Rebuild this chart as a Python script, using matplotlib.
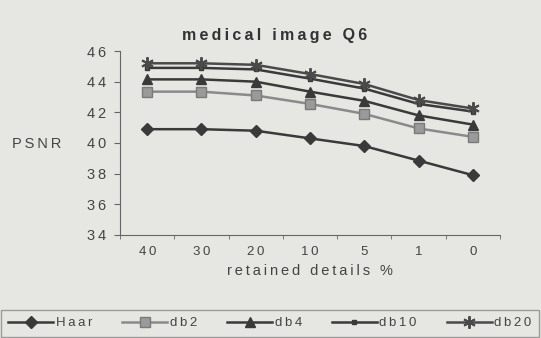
import numpy as np
import matplotlib
matplotlib.use("Agg")
from matplotlib import pyplot as plt

# Data
categories = ["40", "30", "20", "10", "5", "1", "0"]
haar = [40.9, 40.9, 40.8, 40.3, 39.8, 38.85, 37.9]
db2 = [43.35, 43.35, 43.1, 42.55, 41.9, 40.95, 40.4]
db4 = [44.15, 44.15, 44.0, 43.35, 42.75, 41.8, 41.2]
db10 = [44.9, 44.9, 44.8, 44.2, 43.55, 42.55, 42.05]
db20 = [45.2, 45.2, 45.1, 44.5, 43.85, 42.8, 42.25]
y_ticks = [34, 36, 38, 40, 42, 44, 46]

plt.rcParams['font.family'] = ['Liberation Sans', 'DejaVu Sans']
bg = "#e6e6e2"
txt = "#444444"


def spaced(s):
    # scanned chart uses wide letter spacing, fake it with thin spaces
    return "\u2009".join(s)


fig = plt.figure(figsize=(5.41, 3.38), dpi=100, facecolor=bg)
ax = fig.add_axes([0.222, 0.305, 0.702, 0.544])
ax.set_facecolor(bg)

x = np.arange(len(categories))
dark = "#3a3a3a"
ax.plot(x, haar, color=dark, lw=1.8, marker="D", ms=6, mfc=dark, mec=dark, label=spaced("Haar"))
ax.plot(x, db2, color="#8a8a8a", lw=1.8, marker="s", ms=7, mfc="#9a9a9a", mec="#7a7a7a", label=spaced("db2"))
ax.plot(x, db4, color=dark, lw=1.8, marker="^", ms=7, mfc=dark, mec=dark, label=spaced("db4"))
ax.plot(x, db10, color=dark, lw=1.8, marker="s", ms=3.5, mfc=dark, mec=dark, label=spaced("db10"))
ax.plot(x, db20, color="#4a4a4a", lw=1.8, marker=(6, 2, 0), ms=9, mew=1.4, mec="#4a4a4a", label=spaced("db20"))

ax.set_xlim(-0.5, len(categories) - 0.5)
ax.set_ylim(34, 46)
ax.set_yticks(y_ticks)
ax.set_yticklabels([spaced(str(v)) for v in y_ticks], fontsize=10.5, color=txt)
ax.set_xticks(x)
ax.set_xticklabels([spaced(c) for c in categories], fontsize=9.5, color=txt)
ax.tick_params(axis="x", length=0, pad=8)
ax.set_xticks(np.arange(-0.5, len(categories)), minor=True)
ax.tick_params(axis="x", which="minor", length=3, direction="out", color="#666666")
ax.tick_params(axis="y", length=4, direction="out", color="#666666", pad=6)

for side in ["top", "right"]:
    ax.spines[side].set_visible(False)
for side in ["left", "bottom"]:
    ax.spines[side].set_color("#666666")

ax.set_xlabel(spaced("retained details %"), fontsize=10.5, color=txt, labelpad=4)
fig.text(0.022, 0.575, spaced("PSNR"), fontsize=10.5, color=txt, va="center")
fig.text(0.508, 0.895, spaced("medical image Q6"), fontsize=11.5, fontweight="bold",
         color="#333333", ha="center", va="center")

leg = fig.legend(loc="lower left", bbox_to_anchor=(0.002, 0.004, 0.994, 0.1), mode="expand",
                 ncol=5, fontsize=9.5, handlelength=3.4, columnspacing=0.5,
                 handletextpad=0.2, frameon=True, fancybox=False, edgecolor="#888888",
                 facecolor=bg, borderpad=0.55, borderaxespad=0.0)
for t in leg.get_texts():
    t.set_color(txt)

fig.savefig("out.png", dpi=100, facecolor=bg)
